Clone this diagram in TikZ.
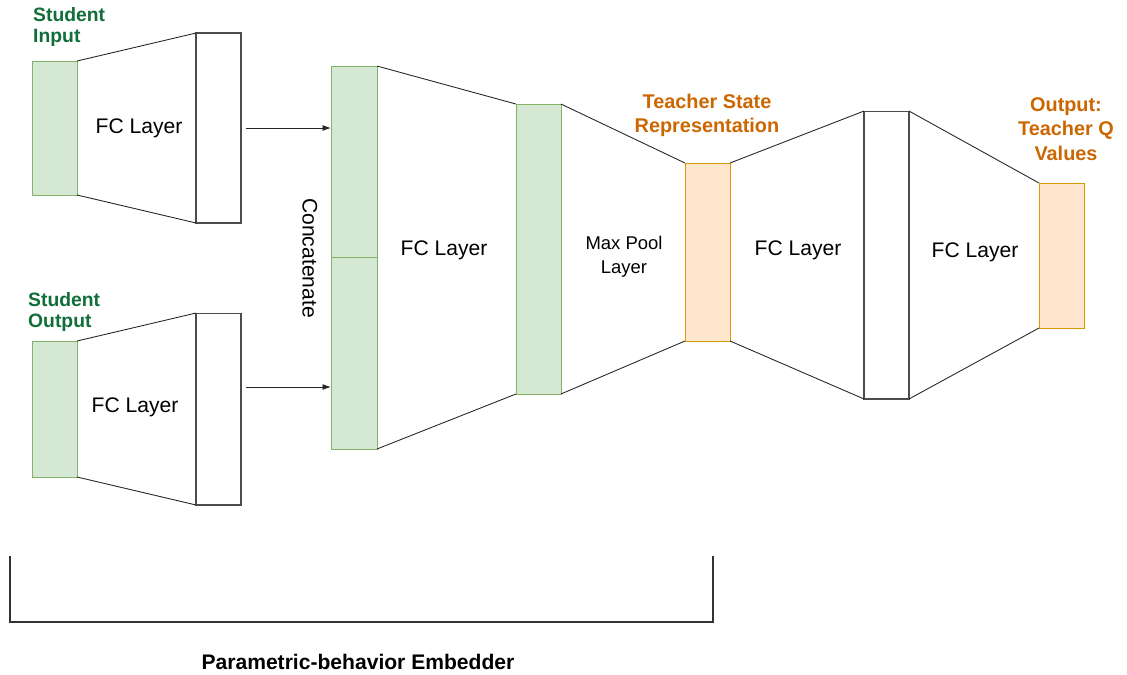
\documentclass[tikz,border=0pt]{standalone}
\usepackage{fontspec}
\setmainfont{Liberation Sans}
\usepackage{xcolor}
\usepackage{tikz}
\usetikzlibrary{arrows.meta,positioning}
\definecolor{greenfill}{HTML}{D5E8D4}
\definecolor{greenline}{HTML}{82B366}
\definecolor{orangefill}{HTML}{FFE6CC}
\definecolor{orangeline}{HTML}{D79B00}
\definecolor{greentext}{RGB}{16,110,56}
\definecolor{orangetext}{HTML}{CC6600}
\tikzset{
	layer/.style={inner sep=0pt,outer sep=0pt,minimum width=0.9cm},
	greenbox/.style={layer,draw=greenline,fill=greenfill},
	orangebox/.style={layer,draw=orangeline,fill=orangefill},
	whitebox/.style={layer,draw=black!70,line width=0.6pt,fill=white},
	edge/.style={black!85,line width=0.5pt},
	fctext/.style={font=\fontsize{12}{14}\selectfont},
	greenlabel/.style={text=greentext,align=left,font=\fontsize{11}{12}\selectfont\bfseries},
	orangelabel/.style={text=orangetext,align=center,font=\fontsize{11.3}{14}\selectfont\bfseries}
}
\begin{document}
\begin{tikzpicture}[x=0.02cm,y=-0.02cm]
		\useasboundingbox (0,0) rectangle (1127,674);
		\node[greenbox,minimum height=2.68cm] (inA) at (54.5,128) {};
		\node[whitebox,minimum height=3.8cm] (fcA) at (218.5,128) {};
		\node[greenbox,minimum height=2.72cm] (inB) at (54.5,409) {};
		\node[whitebox,minimum height=3.84cm] (fcB) at (218.5,409) {};
		\node[greenbox,minimum width=0.92cm,minimum height=3.82cm] (catA) at (354,161.5) {};
		\node[greenbox,minimum width=0.92cm,minimum height=3.84cm] (catB) at (354,353) {};
		\node[greenbox,minimum height=5.8cm] (emb) at (538.5,249) {};
		\node[orangebox,minimum height=3.56cm] (state) at (707.5,252) {};
		\node[whitebox,minimum height=5.76cm] (hid) at (886.5,255) {};
		\node[orangebox,minimum height=2.9cm] (qout) at (1061.5,255.5) {};
		\draw[edge] (inA.north east)--(fcA.north west);
		\draw[edge] (inA.south east)--(fcA.south west);
		\draw[edge] (inB.north east)--(fcB.north west);
		\draw[edge] (inB.south east)--(fcB.south west);
		\draw[edge] (catA.north east)--(emb.north west);
		\draw[edge] (catB.south east)--(emb.south west);
		\draw[edge] (emb.north east)--(state.north west);
		\draw[edge] (emb.south east)--(state.south west);
		\draw[edge] (state.north east)--(hid.north west);
		\draw[edge] (state.south east)--(hid.south west);
		\draw[edge] (hid.north east)--(qout.north west);
		\draw[edge] (hid.south east)--(qout.south west);
		\node[fctext] (fcAtext) at (139,128) {FC Layer};
		\node[fctext] (fcBtext) at (135,407) {FC Layer};
		\node[fctext] (embtext) at (444,250) {FC Layer};
		\node[fctext] (hidtext) at (798,250) {FC Layer};
		\node[fctext] (qtext) at (975,252) {FC Layer};
		\node[align=center,font=\fontsize{10.5}{13.6}\selectfont] (pool) at (624,257) {Max Pool\\Layer};
		\node[fctext,rotate=-90] (concat) at (310,258) {Concatenate};
		\coordinate (a1) at (246,128);
		\coordinate (a2) at (246,387);
		\draw[-{Latex[length=0.17cm,width=0.12cm]},edge] (a1) -- (catA.west |- a1);
		\draw[-{Latex[length=0.17cm,width=0.12cm]},edge] (a2) -- (catB.west |- a2);
		\node[greenlabel,anchor=west] (inlabel) at (27,27) {Student\\Input};
		\node[greenlabel,anchor=west] (outlabel) at (22,312) {Student\\Output};
		\node[orangelabel] (statelabel) at (707,115.5) {Teacher State\\Representation};
		\node[orangelabel] (qlabel) at (1066,129) {Output:\\Teacher Q\\Values};
		\draw[black!80,line width=0.6pt] (10,556) -- (10,622) -- (713,622) -- (713,556);
		\node[font=\fontsize{12}{14}\selectfont\bfseries] (embedder) at (358,662) {Parametric-behavior Embedder};
	\end{tikzpicture}
\end{document}
